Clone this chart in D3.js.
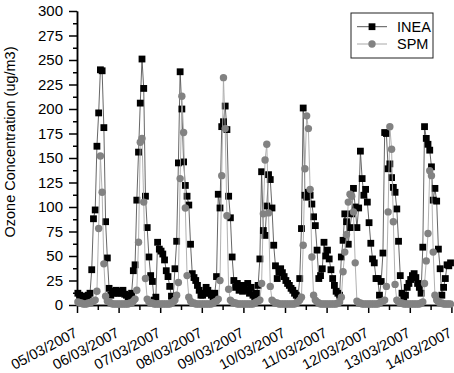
<!DOCTYPE html>
<html>
<head>
<meta charset="utf-8">
<script src="https://d3js.org/d3.v7.min.js"></script>
<style>
  body { margin: 0; background: #fff; }
  text { font-family: "Liberation Sans", Arial, sans-serif; fill: #000; }
</style>
</head>
<body>
<div id="chart"></div>
<script>
// hourly ozone (ug/m3), one line per day, 05/03/2007 -> 13/03/2007
var inea = [
  12,10,9,8,7,9,10,12, 36,88,97,162, 196,240,239,181, 85,48,17,10, 14,12,15,12,
  14,12,15,11,10,8,10,12, 35,41,107,156, 206,251,221,111, 79,49,30,24, 5,8,64,57,
  55,52,46,35,29,19,9,8, 37,65,145,238, 200,146,122,111, 102,62,32,28, 25,20,15,10,
  10,12,18,15,12,10,8,12, 29,113,99,182, 187,203,179,111, 89,49,25,18, 22,15,20,14,
  20,15,22,12,18,10,8,12, 20,47,136,76, 71,101,133,128, 99,61,40,27, 34,37,33,29,
  25,22,20,17,15,12,10,8, 27,78,201,112, 110,115,112,103, 90,81,56,27, 30,37,64,50,
  56,47,36,27,20,14,12,10, 49,66,93,85, 62,79,93,119, 100,79,99,157, 129,112,118,105,
  84,63,47,43,27,27,10,24, 53,176,175,139, 144,130,120,115, 98,65,30,12, 6,10,18,22,
  26,30,32,28,22,18,12,59, 182,170,164,158, 141,107,119,106, 57,37,10,18, 27,41,40,43
];
var spm = [
  3,2,2,1,1,1,2,2, 3,4,5,14, 78,152,115,42, 9,4,3,2, 1,1,1,1,
  1,1,1,1,1,1,2,2, 4,6,15,64, 166,170,105,27, 6,3,2,2, 1,1,1,1,
  1,1,1,1,1,1,2,3, 5,10,23,129, 213,176,99,30, 8,4,2,2, 1,1,1,1,
  1,1,1,1,1,1,2,3, 4,6,25,132, 232,180,91,16, 5,3,2,2, 1,1,1,1,
  1,1,1,1,1,1,2,3, 4,5,22,93, 148,164,94,19, 5,3,2,2, 1,1,1,1,
  1,1,1,1,1,1,2,3, 5,8,61,139, 193,180,118,49, 10,5,3,2, 1,1,1,1,
  1,1,1,1,1,1,2,3, 8,34,54,72, 105,113,111,95, 43,4,2,2, 1,1,1,1,
  1,1,1,1,1,1,2,3, 4,5,19,95, 182,159,85,21, 5,3,2,2, 1,1,1,1,
  1,1,1,1,1,1,2,3, 22,45,73,137, 132,54,10,5, 3,2,2,1, 1,1,1,1
];
var seriesNames = ["INEA", "SPM"];
var dayLabels = ["05/03/2007", "06/03/2007", "07/03/2007", "08/03/2007", "09/03/2007",
                 "10/03/2007", "11/03/2007", "12/03/2007", "13/03/2007", "14/03/2007"];
var yTicks = [0, 25, 50, 75, 100, 125, 150, 175, 200, 225, 250, 275, 300];
var yTitle = "Ozone Concentration (ug/m3)";

// dimensions
var margin = {top: 11, right: 2.6, bottom: 68, left: 77},
    width = 454 - margin.left - margin.right,
    height = 373 - margin.top - margin.bottom;

var svg = d3.select("#chart")
  .append("svg")
    .attr("width", 454)
    .attr("height", 373);

var g = svg.append("g")
    .attr("transform", "translate(" + margin.left + "," + margin.top + ")");

var parseDay = d3.utcParse("%d/%m/%Y");
var days = dayLabels.map(parseDay);
var start = d3.utcMinute.offset(days[0], 30);  // hourly means, centred on :30

var data = inea.map(function(v, i) {
  return { t: d3.utcHour.offset(start, i), inea: v, spm: spm[i] };
});

var x = d3.scaleUtc()
  .domain([days[0], days[days.length - 1]])
  .range([0, width]);

var y = d3.scaleLinear()
  .domain([0, 300])
  .range([height, 0]);

// minor ticks halfway between the major ones
var yMinor = yTicks.slice(1).map(function(v) { return v - 12.5; });
var xMinor = days.slice(0, -1).map(function(d) { return d3.utcHour.offset(d, 12); });

// Y axis
g.append("g")
    .call(d3.axisLeft(y).tickValues(yMinor).tickSize(4).tickSizeOuter(0).tickFormat(""));
var yAxis = g.append("g")
    .call(d3.axisLeft(y).tickValues(yTicks).tickSize(8).tickSizeOuter(0).tickPadding(6));
yAxis.selectAll("text").style("font-size", "15px");

// X axis
g.append("g")
    .attr("transform", "translate(0," + height + ")")
    .call(d3.axisBottom(x).tickValues(xMinor).tickSize(5).tickSizeOuter(0).tickFormat(""));
var xAxis = g.append("g")
    .attr("transform", "translate(0," + height + ")")
    .call(d3.axisBottom(x).tickValues(days).tickSize(8).tickSizeOuter(0)
      .tickFormat(function(d, i) { return dayLabels[i]; }));
xAxis.selectAll("text")
    .attr("x", 0).attr("y", 0).attr("dy", 0)
    .attr("text-anchor", "end")
    .attr("transform", "translate(1,31) rotate(-28)")
    .style("font-size", "14.5px");

g.selectAll(".domain, .tick line")
    .attr("stroke", "#000")
    .attr("stroke-width", 1.5);

// Y axis title
svg.append("text")
    .attr("transform", "translate(15,142) rotate(-90)")
    .attr("text-anchor", "middle")
    .style("font-size", "14.5px")
    .text(yTitle);

// INEA: line + black squares
var lineInea = d3.line()
    .x(function(d) { return x(d.t); })
    .y(function(d) { return y(d.inea); });
g.append("path")
    .datum(data)
    .attr("fill", "none")
    .attr("stroke", "#555")
    .attr("stroke-width", 0.9)
    .attr("d", lineInea);
g.append("g")
  .selectAll("rect")
  .data(data)
  .enter()
  .append("rect")
    .attr("x", function(d) { return x(d.t) - 3.4; })
    .attr("y", function(d) { return y(d.inea) - 3.4; })
    .attr("width", 6.8)
    .attr("height", 6.8)
    .attr("fill", "#000");

// SPM: line + grey circles
var lineSpm = d3.line()
    .x(function(d) { return x(d.t); })
    .y(function(d) { return y(d.spm); });
g.append("path")
    .datum(data)
    .attr("fill", "none")
    .attr("stroke", "#a8a8a8")
    .attr("stroke-width", 0.9)
    .attr("d", lineSpm);
g.append("g")
  .selectAll("circle")
  .data(data)
  .enter()
  .append("circle")
    .attr("cx", function(d) { return x(d.t); })
    .attr("cy", function(d) { return y(d.spm); })
    .attr("r", 3.7)
    .attr("fill", "#828282");

// legend
var legend = svg.append("g").attr("transform", "translate(351,13)");
legend.append("rect")
    .attr("width", 82)
    .attr("height", 45)
    .attr("fill", "#fff")
    .attr("stroke", "#222")
    .attr("stroke-width", 1);

var rows = legend.selectAll(".row")
  .data(seriesNames)
  .enter().append("g")
    .attr("transform", function(d, i) { return "translate(0," + (13.7 + i * 17.3) + ")"; });

rows.append("line")
    .attr("x1", 6).attr("x2", 36)
    .attr("stroke", function(d, i) { return i == 0 ? "#555" : "#a8a8a8"; })
    .attr("stroke-width", 1);
rows.filter(function(d, i) { return i == 0; })
  .append("rect")
    .attr("x", 21 - 3.4).attr("y", -3.4)
    .attr("width", 6.8).attr("height", 6.8)
    .attr("fill", "#000");
rows.filter(function(d, i) { return i == 1; })
  .append("circle")
    .attr("cx", 21).attr("r", 3.7)
    .attr("fill", "#828282");
rows.append("text")
    .attr("x", 46)
    .attr("dy", "0.36em")
    .style("font-size", "14.5px")
    .text(function(d) { return d; });
</script>
</body>
</html>
